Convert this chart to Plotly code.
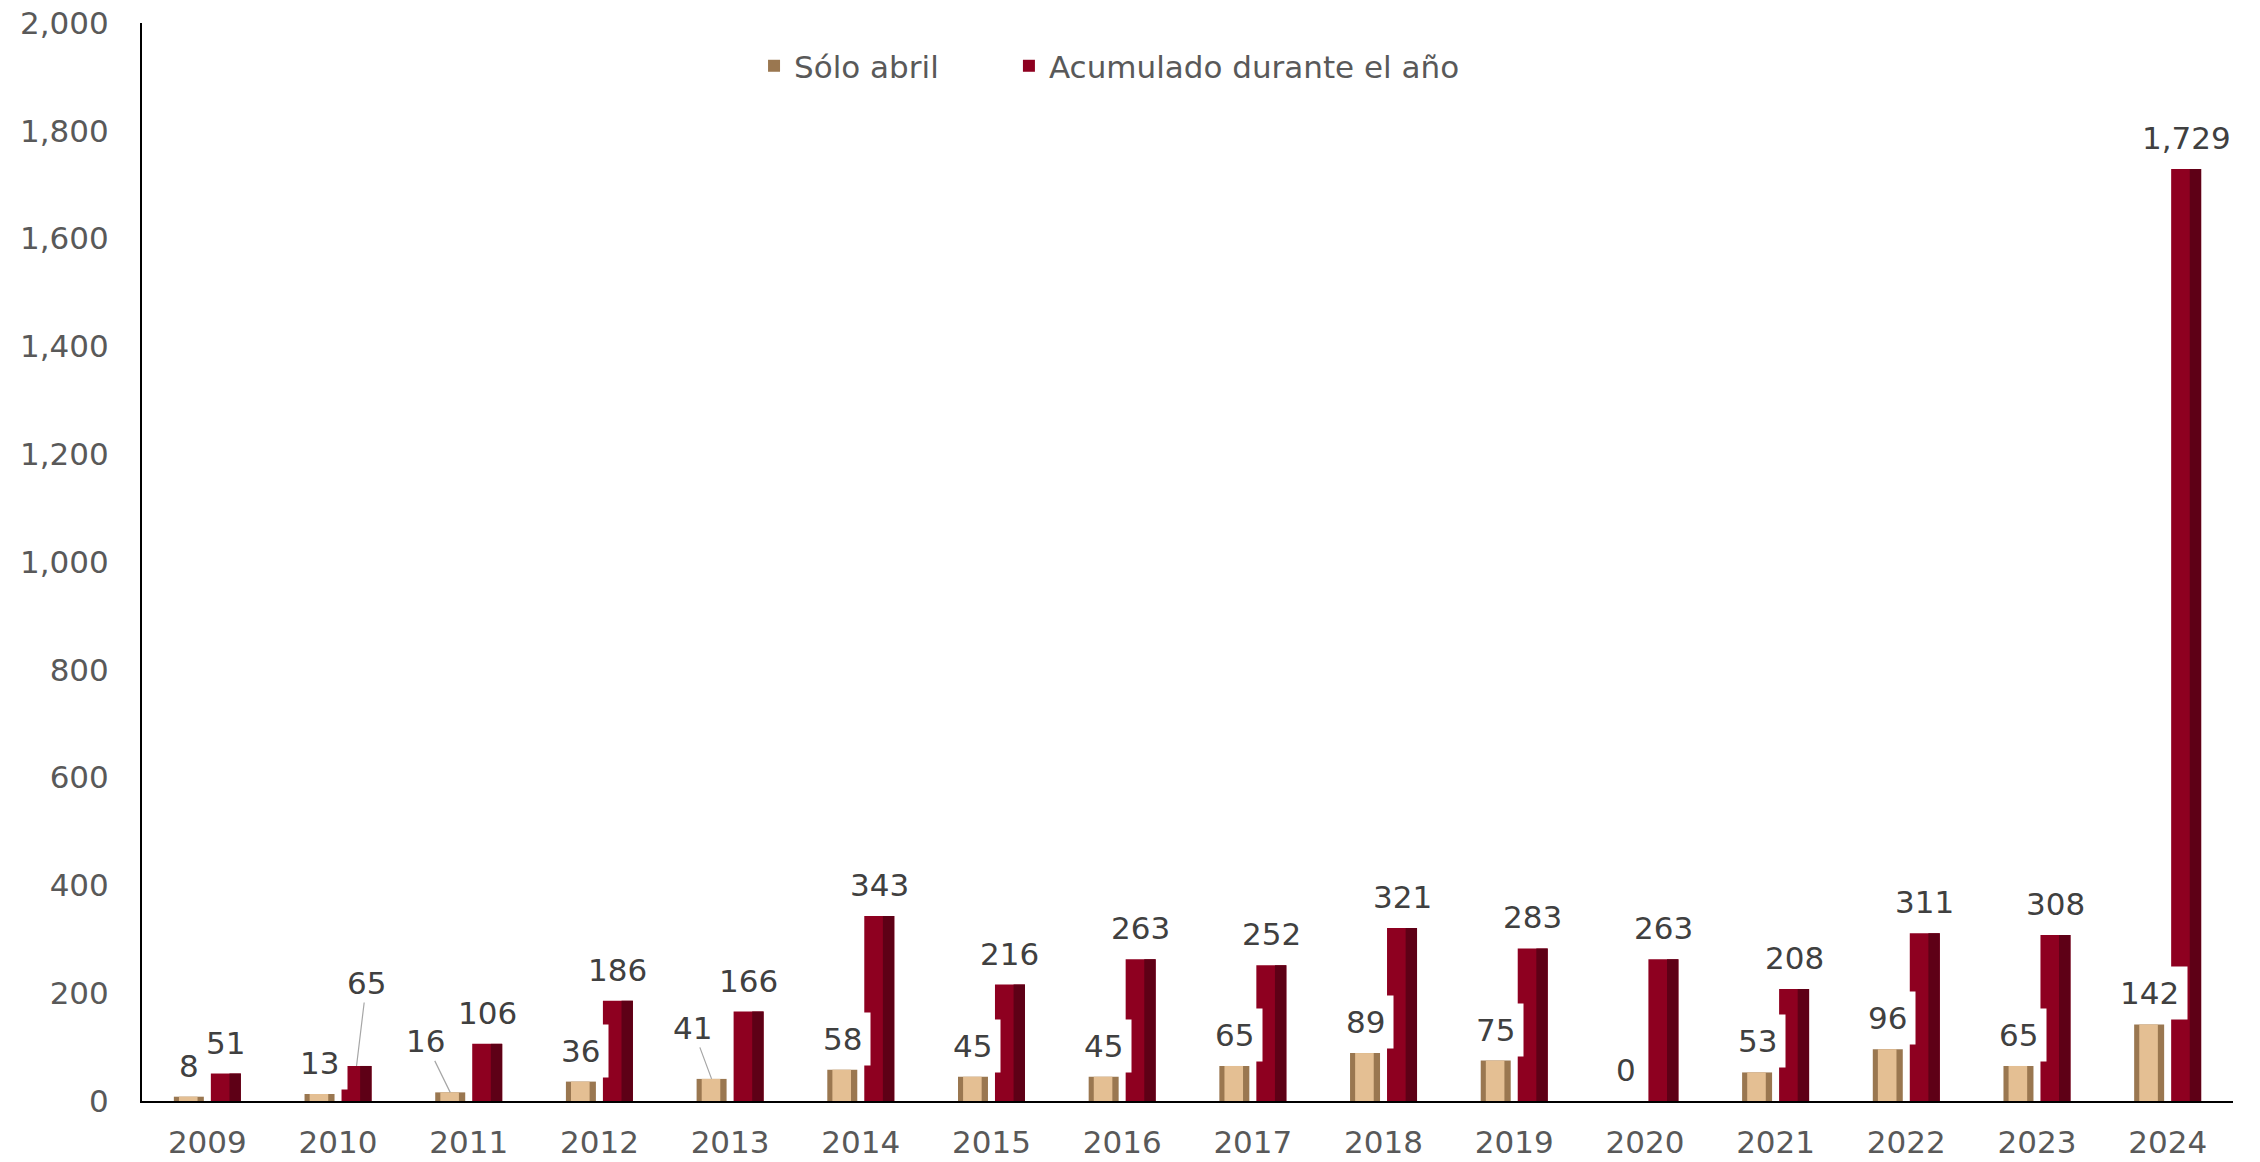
import plotly.graph_objects as go

# ---- data ----
years = ["2009", "2010", "2011", "2012", "2013", "2014", "2015", "2016",
         "2017", "2018", "2019", "2020", "2021", "2022", "2023", "2024"]
solo_abril = [8, 13, 16, 36, 41, 58, 45, 45, 65, 89, 75, 0, 53, 96, 65, 142]
acumulado = [51, 65, 106, 186, 166, 343, 216, 263, 252, 321, 283, 263, 208, 311, 308, 1729]
y_ticks = [0, 200, 400, 600, 800, 1000, 1200, 1400, 1600, 1800, 2000]

# ---- styling ----
FONT = "Verdana, DejaVu Sans, sans-serif"
TICK_COLOR = "#595959"
LABEL_COLOR = "#404040"
GOLD_DARK = "#9A7750"
GOLD_LIGHT = "#E4BF93"
RED_MAIN = "#8E0020"
RED_DARK = "#5E0016"

BW = 0.2295          # bar width in category units
GAP = 0.0268         # half gap between the pair
gold_off = -GAP - BW
red_off = GAP
gold_c = gold_off + BW / 2
red_c = red_off + BW / 2

idx = list(range(len(years)))

fig = go.Figure()
# gold bars (base + highlight)
fig.add_trace(go.Bar(x=idx, y=solo_abril, name="Sólo abril", width=BW, offset=gold_off,
                     marker=dict(color=GOLD_DARK, line=dict(width=0)), showlegend=True, legend="legend"))
fig.add_trace(go.Bar(x=idx, y=solo_abril, width=BW * 0.62, offset=gold_off + BW * 0.17,
                     marker=dict(color=GOLD_LIGHT, line=dict(width=0)), showlegend=False))
# red bars (base + dark right side)
fig.add_trace(go.Bar(x=idx, y=acumulado, name="Acumulado durante el año", width=BW, offset=red_off,
                     marker=dict(color=RED_MAIN, line=dict(width=0)), showlegend=True, legend="legend2"))
fig.add_trace(go.Bar(x=idx, y=acumulado, width=BW * 0.38, offset=red_off + BW * 0.62,
                     marker=dict(color=RED_DARK, line=dict(width=0)), showlegend=False))

# leader-line labels: (series, year) -> (ax, ay) pixel offset of label from bar top
leaders = {("gold", "2011"): (-25, -51), ("gold", "2013"): (-19, -51), ("red", "2010"): (10, -83)}

annotations = []
for i, yr in enumerate(years):
    for series, vals, cx, bg in (("gold", solo_abril, gold_c, "white"), ("red", acumulado, red_c, "rgba(0,0,0,0)")):
        v = vals[i]
        txt = f"{v:,}"
        key = (series, yr)
        if key in leaders:
            ax, ay = leaders[key]
            annotations.append(dict(x=i + cx, y=v, xref="x", yref="y", text=txt, showarrow=True,
                                    arrowhead=0, arrowwidth=1.2, arrowcolor="#A6A6A6", ax=ax, ay=ay,
                                    standoff=0, font=dict(family=FONT, size=31, color=LABEL_COLOR),
                                    bgcolor="rgba(0,0,0,0)"))
        else:
            annotations.append(dict(x=i + cx, y=v, xref="x", yref="y", text=txt, showarrow=False,
                                    yanchor="middle", yshift=31, bgcolor=bg, borderpad=8,
                                    font=dict(family=FONT, size=31, color=LABEL_COLOR)))

legend_style = dict(orientation="h", xanchor="left", y=0.96, yanchor="middle",
                    font=dict(family=FONT, size=31, color=TICK_COLOR),
                    bgcolor="rgba(0,0,0,0)", itemwidth=30)

fig.update_layout(
    width=2260, height=1162,
    margin=dict(l=142, r=27, t=23, b=61, autoexpand=False),
    paper_bgcolor="white", plot_bgcolor="white",
    barmode="overlay",
    font=dict(family=FONT, size=31, color=TICK_COLOR),
    showlegend=True,
    legend=dict(x=0.2927, **legend_style),
    legend2=dict(x=0.4146, **legend_style),
    annotations=annotations,
)
fig.update_xaxes(type="linear", range=[-0.5, 15.5], tickmode="array", tickvals=idx, ticktext=years,
                 showline=True, linecolor="black", linewidth=2, showgrid=False, zeroline=False,
                 ticks="", ticklabelstandoff=13, tickfont=dict(family=FONT, size=31, color=TICK_COLOR))
fig.update_yaxes(range=[0, 2000], tickmode="array", tickvals=y_ticks,
                 ticktext=[f"{t:,}" for t in y_ticks],
                 showline=True, linecolor="black", linewidth=2, showgrid=False, zeroline=False,
                 ticks="", ticklabelstandoff=25, tickfont=dict(family=FONT, size=31, color=TICK_COLOR))

fig.write_html("out.html", config={"displayModeBar": False},
               post_script="document.body.style.margin='0';document.body.style.overflow='hidden';")
